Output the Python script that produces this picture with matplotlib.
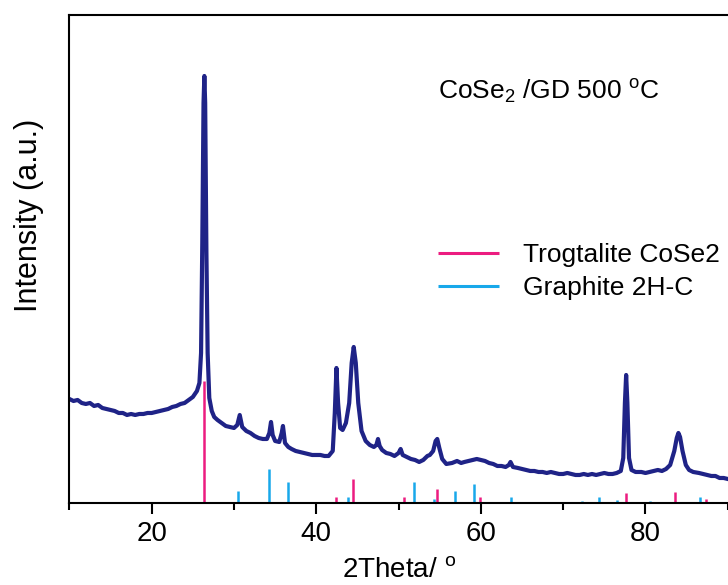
#!/usr/bin/env python3
"""
XRD pattern of CoSe2/GD 500 C with reference stick patterns
"""

import matplotlib
matplotlib.use('Agg')
import matplotlib.pyplot as plt
from matplotlib.ticker import MultipleLocator

# measured pattern (2theta, intensity a.u.)
two_theta = [
    10.0, 10.5, 11.0, 11.5, 12.0, 12.5, 13.0, 13.5, 14.0, 14.5, 15.0, 15.5,
    16.0, 16.5, 17.0, 17.5, 18.0, 18.5, 19.0, 19.5, 20.0, 20.5, 21.0, 21.5,
    22.0, 22.5, 23.0, 23.5, 24.0, 24.5, 25.0, 25.5, 25.8, 26.0, 26.15, 26.3,
    26.4, 26.5, 26.65, 26.8, 27.0, 27.3, 27.6, 28.0, 28.5, 29.0, 29.5, 30.0,
    30.4, 30.7, 31.0, 31.5, 32.0, 32.5, 33.0, 33.5, 34.0, 34.3, 34.5, 34.7,
    35.0, 35.5, 35.8, 35.95, 36.2, 36.6, 37.0, 37.5, 38.0, 38.5, 39.0, 39.5,
    40.0, 40.5, 41.0, 41.5, 42.0, 42.25, 42.45, 42.65, 42.9, 43.2, 43.6, 44.0,
    44.3, 44.55, 44.8, 45.1, 45.5, 46.0, 46.5, 47.0, 47.3, 47.5, 47.7, 48.0,
    48.5, 49.0, 49.5, 50.0, 50.25, 50.5, 51.0, 51.5, 52.0, 52.5, 53.0, 53.5,
    53.8, 54.2, 54.5, 54.7, 54.95, 55.3, 55.8, 56.5, 57.1, 57.6, 58.0, 58.5,
    59.0, 59.5, 60.0, 60.5, 61.0, 61.5, 62.0, 62.5, 63.0, 63.4, 63.6, 63.9,
    64.5, 65.0, 65.5, 66.0, 66.5, 67.0, 67.5, 68.0, 68.5, 69.0, 69.5, 70.0,
    70.5, 71.0, 71.5, 72.0, 72.5, 73.0, 73.5, 74.0, 74.5, 75.0, 75.5, 76.0,
    76.5, 77.0, 77.3, 77.5, 77.65, 77.8, 78.0, 78.3, 78.8, 79.5, 80.0, 80.5,
    81.0, 81.5, 82.0, 82.5, 83.0, 83.5, 83.8, 84.0, 84.2, 84.5, 84.9, 85.3,
    85.8, 86.5, 87.0, 87.5, 88.0, 88.5, 89.0, 89.5, 90.0,
]
intensity = [
    104, 102, 103, 100, 99, 100, 97, 98, 95, 94, 93, 92,
    90, 90, 88, 89, 88, 89, 89, 90, 90, 91, 92, 93,
    94, 96, 97, 99, 100, 103, 106, 112, 120, 150, 260, 400,
    427, 400, 250, 150, 105, 92, 86, 83, 80, 77, 76, 75,
    78, 88, 76, 72, 70, 67, 65, 64, 64, 70, 81, 68,
    62, 61, 70, 77, 60, 56, 54, 52, 51, 50, 49, 48,
    48, 48, 47, 47, 52, 90, 135, 100, 75, 73, 80, 100,
    140, 156, 140, 100, 72, 62, 58, 56, 58, 64, 57, 53,
    50, 49, 47, 50, 54, 48, 46, 44, 43, 41, 43, 47,
    48, 52, 62, 64, 55, 44, 39, 40, 42, 40, 41, 42,
    43, 44, 43, 42, 40, 39, 37, 37, 36, 38, 41, 36,
    35, 34, 33, 32, 32, 31, 31, 30, 31, 30, 29, 29,
    30, 29, 28, 28, 29, 28, 29, 28, 29, 30, 29, 29,
    30, 32, 45, 100, 128, 100, 45, 33, 31, 31, 30, 31,
    32, 33, 32, 34, 38, 52, 65, 70, 66, 52, 38, 33,
    31, 30, 29, 28, 27, 27, 25, 25, 24,
]

# reference patterns
cose2_pos = [26.4, 42.35, 44.5, 50.6, 54.7, 59.9, 77.6, 83.6, 87.3]
cose2_int = [122, 6, 24, 6, 14, 6, 10, 11, 4]
graphite_pos = [30.5, 34.25, 36.6, 43.8, 51.9, 54.3, 56.8, 59.2, 63.7,
                72.3, 74.4, 76.5, 80.6, 86.6]
graphite_int = [12, 34, 21, 6, 21, 4, 12, 19, 6, 2, 6, 3, 2, 6]

plt.rcParams['font.family'] = ['Liberation Sans', 'DejaVu Sans']
plt.rcParams['mathtext.fontset'] = 'custom'
plt.rcParams['mathtext.rm'] = 'Liberation Sans'
plt.rcParams['mathtext.it'] = 'Liberation Sans'


def main():
    fig = plt.figure(figsize=(7.28, 5.85), dpi=100)
    ax = fig.add_axes([0.0953, 0.1402, 0.9044, 0.8342])

    ax.plot(two_theta, intensity, color='#1f2387', lw=3.0)
    ax.vlines(cose2_pos, 0, cose2_int, color='#ec1c80', lw=1.8,
              label='Trogtalite CoSe2')
    ax.vlines(graphite_pos, 0, graphite_int, color='#18a8ea', lw=1.8,
              label='Graphite 2H-C')

    ax.set_xlim(10, 90)
    ax.set_ylim(0, 488)
    ax.xaxis.set_major_locator(MultipleLocator(20))
    ax.xaxis.set_minor_locator(MultipleLocator(10))
    ax.set_yticks([])
    ax.tick_params(axis='x', which='major', direction='out', length=8,
                   width=1.5, labelsize=20, pad=5)
    ax.tick_params(axis='x', which='minor', direction='out', length=5,
                   width=1.5)
    for s in ['left', 'bottom', 'top']:
        ax.spines[s].set_linewidth(1.5)
    ax.spines['right'].set_visible(False)

    ax.set_xlabel(r'2Theta/ $^{\mathrm{o}}$', fontsize=20, labelpad=7)
    ax.set_ylabel('Intensity (a.u.)', fontsize=22)
    ax.yaxis.set_label_coords(-0.038, 0.59)

    ax.text(0.56, 0.842, r'CoSe$_2$ /GD 500 $^{\mathrm{o}}$C', fontsize=19,
            transform=ax.transAxes, va='center', ha='left')

    leg = ax.legend(loc='center left', bbox_to_anchor=(0.56, 0.474),
                    frameon=False, fontsize=19, borderpad=0, borderaxespad=0,
                    handlelength=2.3, handletextpad=0.9, labelspacing=0.35)
    for h in leg.legend_handles:
        h.set_linewidth(2.2)

    fig.savefig('out.png', dpi=100)


if __name__ == '__main__':
    main()
